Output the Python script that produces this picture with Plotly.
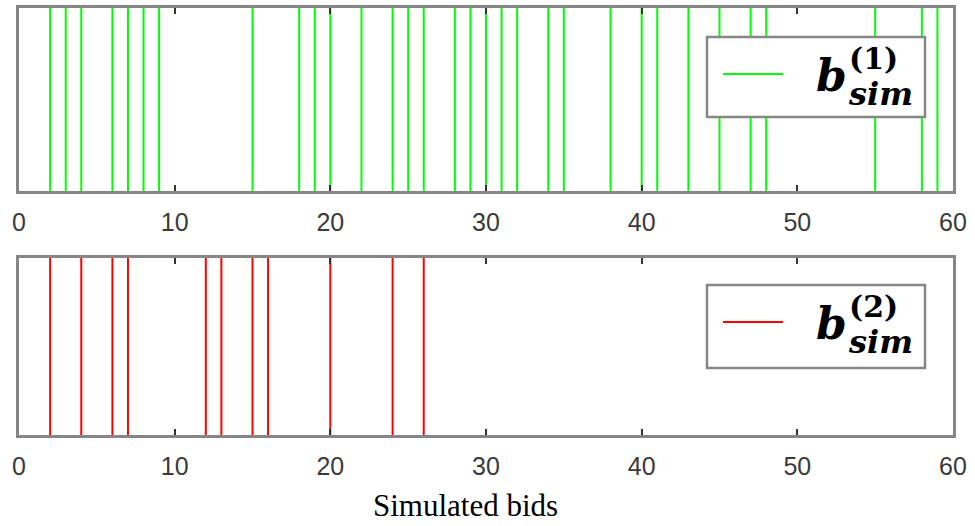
import plotly.graph_objects as go

# ---- data ----
bids_1 = [2, 3, 4, 6, 7, 8, 9, 15, 18, 19, 20, 22, 24, 25, 26, 28, 29, 30, 31, 32,
          34, 35, 38, 40, 41, 43, 45, 47, 48, 55, 58, 59]
bids_2 = [2, 4, 6, 7, 12, 13, 15, 16, 20, 24, 26]
x_ticks = [0, 10, 20, 30, 40, 50, 60]
x_label = "Simulated bids"


def vlines(vals):
    xs, ys = [], []
    for v in vals:
        xs += [v, v, None]
        ys += [0, 1, None]
    return xs, ys


W, H = 975, 526
fig = go.Figure()

x1, y1 = vlines(bids_1)
x2, y2 = vlines(bids_2)
pre = "\u00a0" * 2
fig.add_trace(go.Scatter(x=x1, y=y1, mode="lines", line=dict(color="#00ff00", width=2),
                         name=pre + "<b><i>b</i></b>", xaxis="x", yaxis="y",
                         legend="legend", showlegend=True))
fig.add_trace(go.Scatter(x=x2, y=y2, mode="lines", line=dict(color="#ff0000", width=2),
                         name=pre + "<b><i>b</i></b>", xaxis="x2", yaxis="y2",
                         legend="legend2", showlegend=True))

xd = [19 / W, 953 / W]
top_dom = [(H - 191) / H, (H - 8) / H]
bot_dom = [(H - 435) / H, (H - 258) / H]

frame = "#868686"
xcommon = dict(range=[0, 60], tickvals=x_ticks, ticks="inside", ticklen=6, tickwidth=1.5,
               tickcolor="#333333", mirror="allticks", showline=True, linecolor=frame,
               linewidth=2.5, showgrid=False, zeroline=False, ticklabelstandoff=7,
               automargin=False,
               tickfont=dict(family="Liberation Sans", size=25, color="#3a3a3a"), domain=xd)
ycommon = dict(range=[0, 1], showticklabels=False, ticks="", showline=True, mirror=True,
               linecolor=frame, linewidth=2.5, showgrid=False, zeroline=False,
               automargin=False)

legcommon = dict(bgcolor="rgba(0,0,0,0)", borderwidth=0,
                 font=dict(family="DejaVu Serif", size=44, color="black"),
                 xanchor="left", yanchor="top", x=718 / W, itemwidth=60)

fig.update_layout(
    width=W, height=H, margin=dict(l=0, r=0, t=0, b=0, autoexpand=False),
    paper_bgcolor="white", plot_bgcolor="white", showlegend=True,
    xaxis=dict(anchor="y", **xcommon),
    yaxis=dict(anchor="x", domain=top_dom, **ycommon),
    xaxis2=dict(anchor="y2", **xcommon),
    yaxis2=dict(anchor="x2", domain=bot_dom, **ycommon),
    legend=dict(y=(H - 39) / H, **legcommon),
    legend2=dict(y=(H - 287) / H, **legcommon),
)

shapes = []
annots = [
    dict(text=x_label, x=465 / W, y=1 / H, xref="paper", yref="paper",
         showarrow=False, xanchor="center", yanchor="bottom",
         font=dict(family="Liberation Serif", size=31, color="black")),
]
for top, bottom, lab in [(37, 117, "(1)"), (285, 368, "(2)")]:
    shapes.append(dict(type="rect", xref="paper", yref="paper", layer="above",
                       x0=707 / W, x1=925 / W, y0=(H - bottom) / H, y1=(H - top) / H,
                       fillcolor="white", line=dict(color=frame, width=2.5)))
    txt = ('<span style="font-size:30px"><b>' + lab + '</b></span><br>'
           '<span style="font-size:32px"><b><i>sim</i></b></span>')
    annots.append(dict(text=txt, x=846 / W, y=(H - (top + 78)) / H,
                       xref="paper", yref="paper", showarrow=False, xanchor="left",
                       yanchor="bottom", align="left",
                       font=dict(family="DejaVu Serif", size=28, color="black")))
fig.update_layout(annotations=annots, shapes=shapes)

fig.write_html("out.html")
